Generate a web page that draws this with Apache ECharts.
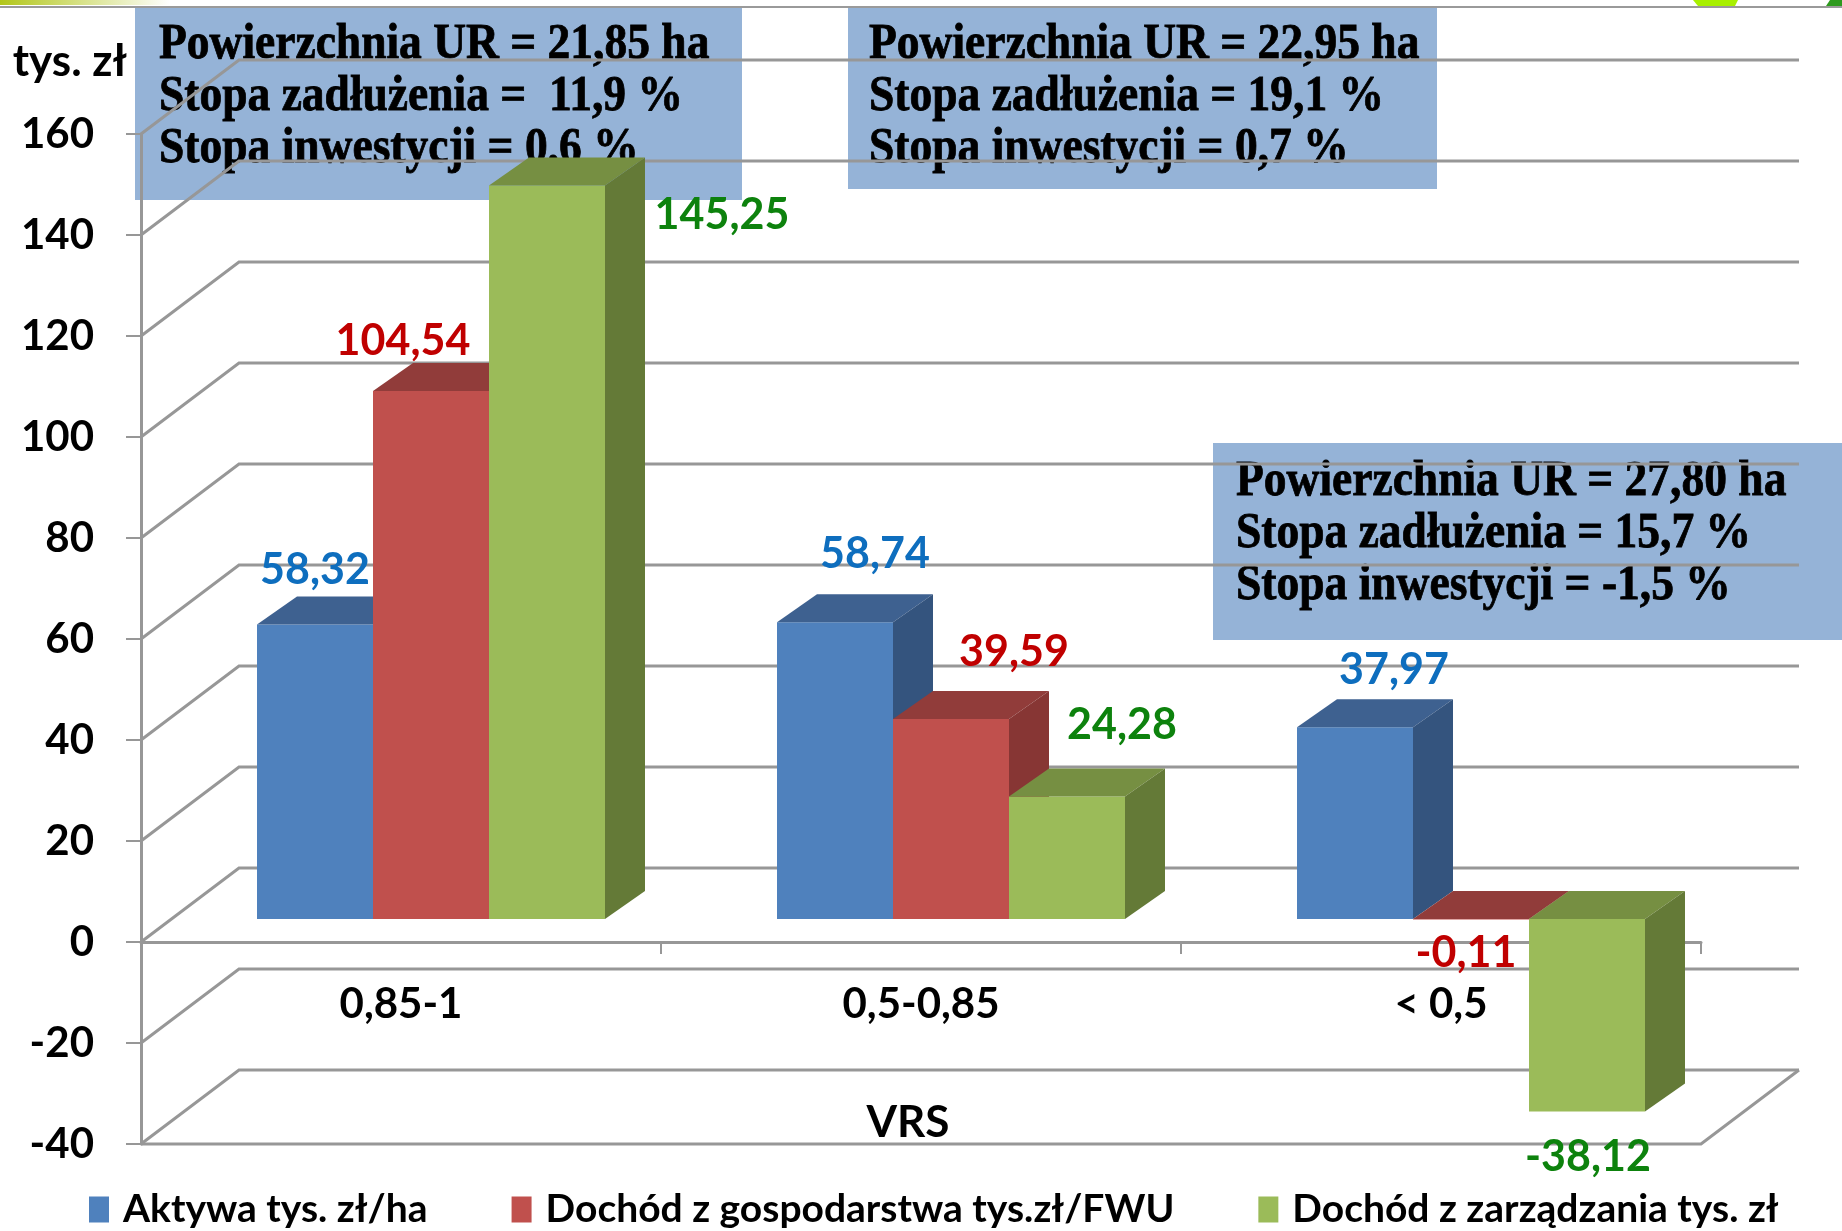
<!DOCTYPE html>
<html><head><meta charset="utf-8">
<script src="https://cdn.jsdelivr.net/npm/echarts@6/dist/echarts.min.js"></script>
<style>html,body{margin:0;padding:0;background:#fff}#chart{width:1842px;height:1231px}</style>
</head><body><div id="chart"></div>
<script>
// ---------- DATA ----------
const CATEGORIES = ['0,85-1', '0,5-0,85', '< 0,5'];
const SERIES_NAMES = ['Aktywa tys. zł/ha', 'Dochód z gospodarstwa tys.zł/FWU', 'Dochód z zarządzania tys. zł'];
const AKTYWA = [58.32, 58.74, 37.97];
const DOCHOD_GOSPODARSTWA = [104.54, 39.59, -0.11];
const DOCHOD_ZARZADZANIA = [145.25, 24.28, -38.12];
const Y_TICKS = [-40, -20, 0, 20, 40, 60, 80, 100, 120, 140, 160];
const Y_TITLE = 'tys. zł';
const X_TITLE = 'VRS';
const BOX_1 = ['Powierzchnia UR = 21,85 ha', 'Stopa zadłużenia =  11,9 %', 'Stopa inwestycji = 0,6 %'];
const BOX_2 = ['Powierzchnia UR = 22,95 ha', 'Stopa zadłużenia = 19,1 %', 'Stopa inwestycji = 0,7 %'];
const BOX_3 = ['Powierzchnia UR = 27,80 ha', 'Stopa zadłużenia = 15,7 %', 'Stopa inwestycji = -1,5 %'];

// ---------- STYLE ----------
const SERIES_VALUES = [AKTYWA, DOCHOD_GOSPODARSTWA, DOCHOD_ZARZADZANIA];
const FONT = 'Lato, "Open Sans", sans-serif';
const SERIF_FONT = 'bold 50px "Liberation Serif", "DejaVu Serif", serif';
const GRID_COLOR = '#979797';
const WALL_DX = 98, WALL_DY = 74;
const PLANE_DX = 30, PLANE_DY = 23;
const BAR_DX = 40, BAR_DY = 28;
const BAR_FRAC = 116 / 520;
const FACE = [
  {front: '#4F81BD', top: '#3E6190', side: '#34547E'},
  {front: '#C0504D', top: '#913C3A', side: '#873634'},
  {front: '#9BBB59', top: '#768F42', side: '#647A37'}
];
const LABEL_COLORS = ['#0E6EBE', '#C00000', '#0D820D'];
const LABEL_SHIFT = [
  [[0, -54], [40, -68], [39, -57]],
  [[-28, -50], [63, -67], [-5, 34]],
  [[175, 30], [55, -71], [1, 46]]
];
const BOX_FILL = 'rgba(79,129,189,0.6)';

function fmt(v) { return v.toFixed(2).replace('.', ','); }

function barGeom(api, s) {
  const i = api.value(0), v = api.value(1);
  const band = api.size([1, 0])[0];
  const w = band * BAR_FRAC;
  const n = SERIES_NAMES.length;
  const p0 = api.coord([i, 0]), p1 = api.coord([i, v]);
  const x0 = p0[0] - n * w / 2 + s * w + PLANE_DX;
  const ya = p0[1] - PLANE_DY, yb = p1[1] - PLANE_DY;
  return {i, v, w, x0, ya, yb};
}

function wallRenderer(params, api) {
  const v = api.value(1);
  const band = api.size([1, 0])[0];
  const pL = api.coord([0, v]);
  const pR = api.coord([CATEGORIES.length - 1, v]);
  const xL = pL[0] - band / 2, xR = pR[0] + band / 2, y = pL[1];
  const st = {stroke: GRID_COLOR, lineWidth: 3, fill: null};
  const children = [{type: 'polyline', shape: {points: [[xL, y], [xL + WALL_DX, y - WALL_DY], [xR + WALL_DX, y - WALL_DY]]}, style: st}];
  if (v === Y_TICKS[0]) {
    children.push({type: 'polyline', shape: {points: [[xL, y], [xR, y], [xR + WALL_DX, y - WALL_DY]]}, style: st});
  }
  return {type: 'group', children};
}

function makeBarRenderer(s) {
  return function (params, api) {
    const g = barGeom(api, s);
    const top = Math.min(g.ya, g.yb), bot = Math.max(g.ya, g.yb);
    const x0 = g.x0, w = g.w, c = FACE[s];
    return {type: 'group', children: [
      {type: 'rect', shape: {x: x0, y: top, width: w, height: bot - top}, style: {fill: c.front}},
      {type: 'polygon', shape: {points: [[x0, top], [x0 + w, top], [x0 + w + BAR_DX, top - BAR_DY], [x0 + BAR_DX, top - BAR_DY]]}, style: {fill: c.top}},
      {type: 'polygon', shape: {points: [[x0 + w, top], [x0 + w + BAR_DX, top - BAR_DY], [x0 + w + BAR_DX, bot - BAR_DY], [x0 + w, bot]]}, style: {fill: c.side}}
    ]};
  };
}

function makeLabelRenderer(s) {
  return function (params, api) {
    const g = barGeom(api, s);
    const off = LABEL_SHIFT[s][g.i];
    return {type: 'text', x: g.x0 + g.w / 2 + off[0], y: g.yb + off[1],
      style: {text: fmt(g.v), fill: LABEL_COLORS[s], fontSize: 43, fontWeight: 'bold', fontFamily: FONT, align: 'center', verticalAlign: 'middle'}};
  };
}

function box(x, y, w, h, lines, tx, ty) {
  const children = [{type: 'rect', shape: {x: x, y: y, width: w, height: h}, style: {fill: BOX_FILL}}];
  lines.forEach(function (t, k) {
    children.push({type: 'text', x: tx, y: ty + k * 52, scaleX: 0.91,
      style: {text: t, fill: '#000', stroke: '#000', lineWidth: 0.8, font: SERIF_FONT, align: 'left', verticalAlign: 'middle'}});
  });
  return {type: 'group', z: 100, children};
}

const series = [{
  type: 'custom', z: 1, silent: true, renderItem: wallRenderer,
  data: Y_TICKS.map(v => [0, v]), encode: {x: 0, y: 1}
}];
SERIES_VALUES.forEach(function (vals, s) {
  series.push({type: 'custom', name: SERIES_NAMES[s], z: 2, renderItem: makeBarRenderer(s),
    itemStyle: {color: FACE[s].front}, data: vals.map((v, i) => [i, v]), encode: {x: 0, y: 1}});
});
SERIES_VALUES.forEach(function (vals, s) {
  series.push({type: 'custom', z: 5, silent: true, renderItem: makeLabelRenderer(s),
    data: vals.map((v, i) => [i, v]), encode: {x: 0, y: 1}});
});

const chart = echarts.init(document.getElementById('chart'), null, {renderer: 'canvas'});
chart.setOption({
  backgroundColor: '#fff',
  animation: false,
  grid: {left: 141, right: 141, top: 134, bottom: 87, containLabel: false, outerBoundsMode: 'none'},
  legend: {
    data: SERIES_NAMES, left: 84, top: 1185, itemGap: 84, itemWidth: 20, itemHeight: 26, icon: 'rect',
    textStyle: {fontSize: 39, fontWeight: 'bold', fontFamily: FONT, color: '#000', padding: [0, 0, 0, 9]}
  },
  xAxis: {
    type: 'category', data: CATEGORIES,
    name: X_TITLE, nameLocation: 'middle', nameGap: -43,
    nameTextStyle: {fontSize: 44, fontWeight: 'bold', fontFamily: FONT, color: '#000', padding: [0, 26, 0, 0]},
    axisLine: {onZero: true, lineStyle: {color: GRID_COLOR, width: 3}},
    axisTick: {show: true, length: 12, lineStyle: {color: GRID_COLOR, width: 2}},
    axisLabel: {fontSize: 42, fontWeight: 'bold', fontFamily: FONT, color: '#000', margin: -161, lineHeight: 42},
    splitLine: {show: false}
  },
  yAxis: {
    type: 'value', min: Y_TICKS[0], max: Y_TICKS[Y_TICKS.length - 1], interval: Y_TICKS[1] - Y_TICKS[0],
    name: Y_TITLE, nameLocation: 'end', nameGap: 50,
    nameTextStyle: {fontSize: 44, fontWeight: 'bold', fontFamily: FONT, color: '#000', align: 'right', padding: [0, 14, 0, 0]},
    axisLine: {show: true, lineStyle: {color: GRID_COLOR, width: 3}},
    axisTick: {show: true, length: 15, lineStyle: {color: GRID_COLOR, width: 2}},
    axisLabel: {fontSize: 42, fontWeight: 'bold', fontFamily: FONT, color: '#000', margin: 47},
    splitLine: {show: false}
  },
  graphic: [
    {type: 'rect', z: 50, shape: {x: 0, y: 0, width: 170, height: 5},
      style: {fill: new echarts.graphic.LinearGradient(0, 0, 1, 0, [{offset: 0, color: '#B2C61A'}, {offset: 1, color: '#ffffff'}])}},
    {type: 'line', z: 50, shape: {x1: 0, y1: 7, x2: 1842, y2: 7}, style: {stroke: '#9a9a9a', lineWidth: 2}},
    {type: 'polygon', z: 50, shape: {points: [[1693, 0], [1738, 0], [1735, 6], [1698, 6]]}, style: {fill: '#A8F000'}},
    {type: 'polygon', z: 50, shape: {points: [[1830, 0], [1842, 0], [1842, 6], [1826, 6]]}, style: {fill: '#2E9A1E'}},
    box(135, 8, 607, 192, BOX_1, 159, 45),
    box(848, 8, 589, 181, BOX_2, 869, 45),
    box(1213, 443, 629, 197, BOX_3, 1236, 482)
  ],
  series: series
});
</script></body></html>
